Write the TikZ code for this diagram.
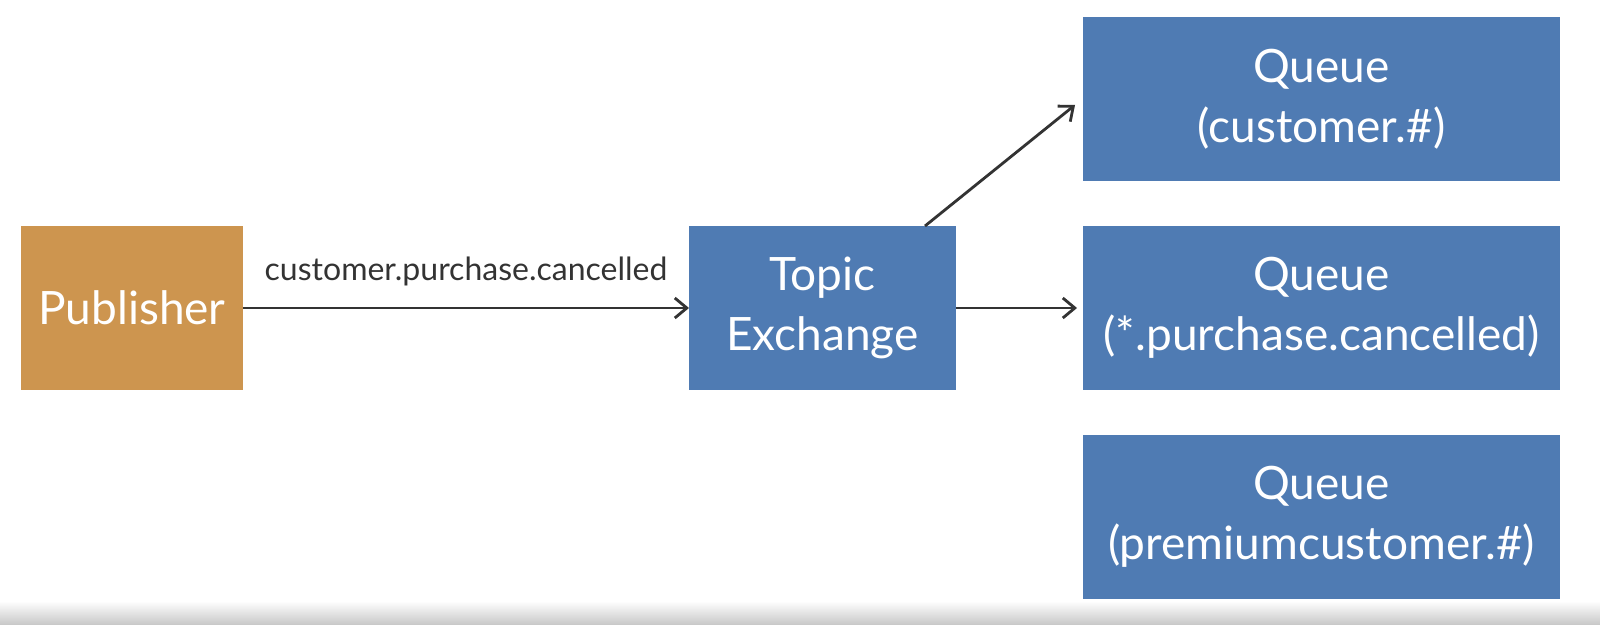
\documentclass[tikz,border=0pt]{standalone}
\usepackage{fontspec}
\setmainfont{Lato}
\usetikzlibrary{positioning,calc,arrows.meta}
\definecolor{pubcol}{HTML}{CD954F}
\definecolor{qcol}{HTML}{4F7BB3}
\definecolor{txtcol}{HTML}{333333}
\tikzstyle{box}=[fill=#1,text=white,inner sep=0pt,outer sep=0pt,minimum height=82pt,align=center,font=\fontsize{23}{30}\selectfont]
\tikzset{
	>={Straight Barb[length=6pt,width=10pt]},
	link/.style={->,line width=1.4pt,draw=txtcol},
}

\begin{document}
\begin{tikzpicture}[node distance=223pt]

    \node[box=pubcol,minimum width=111pt] (pub) {Publisher};
    \node[box=qcol,minimum width=133.5pt,right=of pub] (exch) {Topic\\Exchange};
    \node[box=qcol,minimum width=238.5pt,right=63.5pt of exch] (q2) {Queue\\(*.purchase.cancelled)};
    \node[box=qcol,minimum width=238.5pt,above=22.5pt of q2] (q1) {Queue\\(customer.\#)};
    \node[box=qcol,minimum width=238.5pt,below=22.5pt of q2] (q3) {Queue\\(premiumcustomer.\#)};

    \draw[link] (pub) -- node[above=7pt,text=txtcol,font=\fontsize{16}{19}\selectfont] {customer.purchase.cancelled} (exch);
    \draw[link] (exch) -- ([xshift=-3pt]q2.west);
    \draw[link] ([xshift=-15.5pt]exch.north east) -- ([xshift=-4pt,yshift=-3pt]q1.west);

    % frame and bottom band
    \coordinate (tl) at ($(pub.west|-q1.north)+(-10.5pt,8.5pt)$);
    \coordinate (br) at ($(q3.south east)+(20pt,-13pt)$);
    \shade[top color=white,bottom color=black!22] ($(tl|-br)+(0,12pt)$) rectangle (br);
    \pgfresetboundingbox
    \path[use as bounding box] (tl) rectangle (br);
\end{tikzpicture}
\end{document}
